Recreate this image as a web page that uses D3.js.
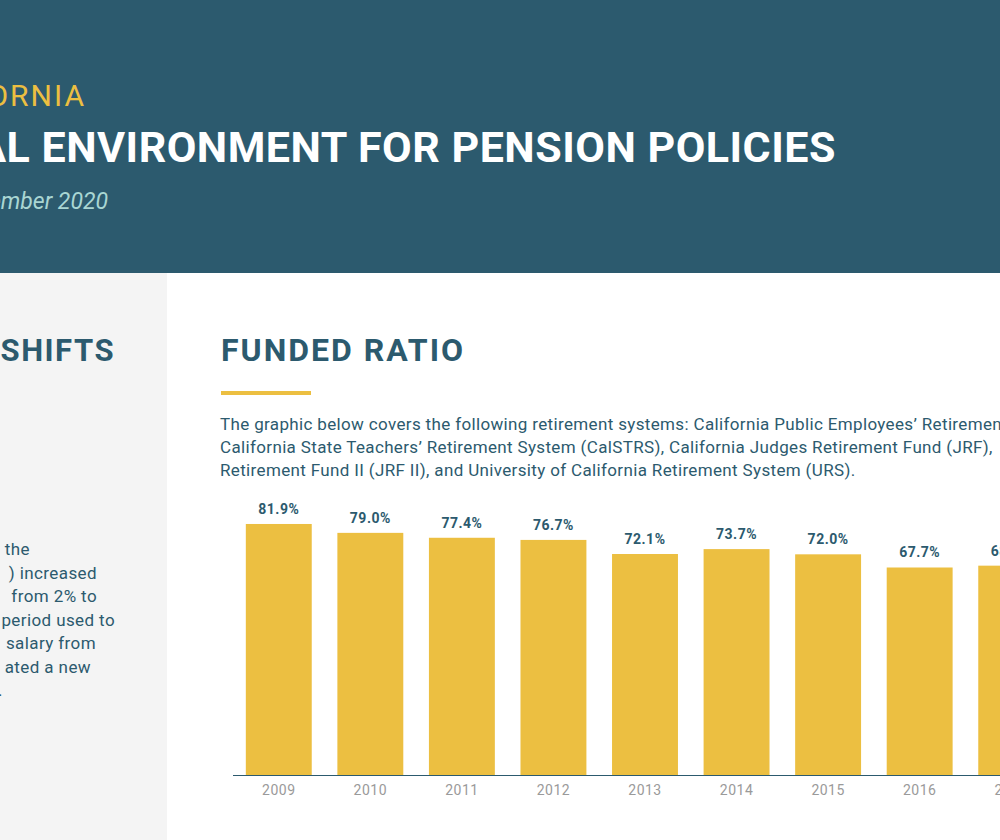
<!DOCTYPE html>
<html><head><meta charset="utf-8">
<script src="https://cdn.jsdelivr.net/npm/d3@7"></script>
<style>body{margin:0;overflow:hidden}svg{display:block;font-family:Roboto,"Noto Sans",sans-serif}</style>
</head><body>
<script>
const years = ["2009","2010","2011","2012","2013","2014","2015","2016","2017"];
const ratios = [81.9,79.0,77.4,76.7,72.1,73.7,72.0,67.7,68.3];
const introLines = [
 "The graphic below covers the following retirement systems: California Public Employees’ Retirement System (CalPERS),",
 "California State Teachers’ Retirement System (CalSTRS), California Judges Retirement Fund (JRF),",
 "Retirement Fund II (JRF II), and University of California Retirement System (URS)."
];
const sideLines = [["the",30],[") increased",97],["from 2% to",97],["period used to",115],["salary from",96],["ated a new",91],[".",3]];
const teal="#2c5a6e", yellow="#ecbf41";
const svg=d3.select("body").append("svg").attr("width",1000).attr("height",840);
svg.append("rect").attr("width",1000).attr("height",840).attr("fill","#fff");
svg.append("rect").attr("width",1000).attr("height",273).attr("fill",teal);
svg.append("rect").attr("y",273).attr("width",167).attr("height",567).attr("fill","#f4f4f4");
svg.append("text").attr("x",86).attr("y",106).attr("text-anchor","end").attr("fill",yellow).attr("font-size",30).attr("letter-spacing",2).text("CALIFORNIA");
svg.append("text").attr("x",836).attr("y",162).attr("text-anchor","end").attr("fill","#fff").attr("font-size",43).attr("font-weight",700).attr("letter-spacing",0.5).text("FISCAL ENVIRONMENT FOR PENSION POLICIES");
svg.append("text").attr("x",108).attr("y",209).attr("text-anchor","end").attr("fill","#a9d6d3").attr("font-size",23).attr("font-style","italic").text("September 2020");
svg.append("text").attr("x",115).attr("y",361).attr("text-anchor","end").attr("fill",teal).attr("font-size",31).attr("font-weight",700).attr("letter-spacing",1.5).text("POLICY SHIFTS");
sideLines.forEach((l,i)=>svg.append("text").attr("x",l[1]).attr("y",555+i*23.5).attr("text-anchor","end").attr("fill",teal).attr("font-size",17).attr("letter-spacing",0.4).text(l[0]));
svg.append("text").attr("x",221).attr("y",361).attr("fill",teal).attr("font-size",32).attr("font-weight",700).attr("letter-spacing",2).text("FUNDED RATIO");
svg.append("rect").attr("x",221).attr("y",391).attr("width",90).attr("height",4).attr("fill",yellow);
introLines.forEach((l,i)=>svg.append("text").attr("x",220).attr("y",430+i*23).attr("fill",teal).attr("font-size",17).attr("letter-spacing",0.35).text(l));
const x=d3.scaleBand().domain(years).range([233,1057]).paddingInner(0.28).paddingOuter(0.14);
const y=d3.scaleLinear().domain([0,100]).range([775,468.5]);
const g=svg.append("g");
g.selectAll("rect.b").data(years).join("rect").attr("x",d=>x(d)).attr("width",x.bandwidth())
 .attr("y",(d,i)=>y(ratios[i])).attr("height",(d,i)=>775-y(ratios[i])).attr("fill",yellow);
g.selectAll("text.v").data(years).join("text").attr("x",d=>x(d)+x.bandwidth()/2).attr("y",(d,i)=>y(ratios[i])-10)
 .attr("text-anchor","middle").attr("fill",teal).attr("font-size",14).attr("font-weight",700).attr("letter-spacing",0.5).text((d,i)=>ratios[i].toFixed(1)+"%");
svg.append("line").attr("x1",233).attr("x2",1000).attr("y1",775.5).attr("y2",775.5).attr("stroke",teal).attr("stroke-width",1);
const ax=svg.append("g").attr("transform","translate(0,776)").call(d3.axisBottom(x).tickSize(0).tickPadding(9));
ax.select(".domain").remove();
ax.selectAll("text").attr("fill","#9a9a9a").attr("font-size",14).attr("letter-spacing",0.5).attr("font-family","Roboto,sans-serif");
</script></body></html>
